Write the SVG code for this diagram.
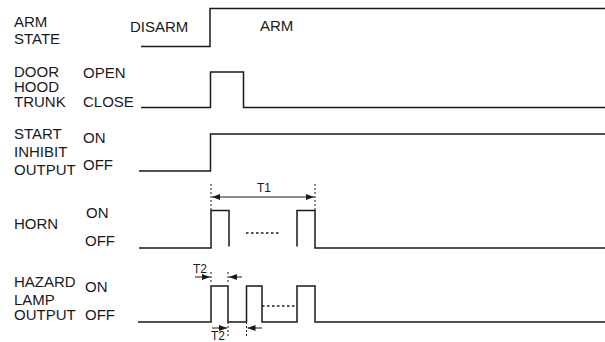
<svg xmlns="http://www.w3.org/2000/svg" width="605" height="342" viewBox="0 0 605 342">
<style>
text{font-family:"Liberation Sans",Arial,sans-serif;font-size:15px;fill:#1a1a1a}
text.s{font-size:12px}
.sig{fill:none;stroke:#1a1a1a;stroke-width:1.5}
.dot{fill:none;stroke:#1a1a1a;stroke-width:1.5;stroke-dasharray:2.5 2.5}
.dim{fill:none;stroke:#1a1a1a;stroke-width:1}
.ext{fill:none;stroke:#1a1a1a;stroke-width:1;stroke-dasharray:2 2}
</style>
<defs>
<marker id="ah" viewBox="0 0 8 6" refX="8" refY="3" markerWidth="8" markerHeight="6" orient="auto-start-reverse" markerUnits="userSpaceOnUse">
<path d="M0,0 L8,3 L0,6 Z" fill="#1a1a1a"/>
</marker>
</defs>
<g id="arm-state">
<text x="14" y="27">ARM</text>
<text x="14" y="44">STATE</text>
<text x="130" y="32">DISARM</text>
<text x="260" y="31">ARM</text>
<path class="sig" d="M141,46.5 H210 V8.5 H605"/>
</g>
<g id="door">
<text x="14" y="77">DOOR</text>
<text x="14" y="92">HOOD</text>
<text x="14" y="107">TRUNK</text>
<text x="83" y="78">OPEN</text>
<text x="83" y="107">CLOSE</text>
<path class="sig" d="M141,107.5 H210.5 V72 H243.5 V107.5 H605"/>
</g>
<g id="start-inhibit">
<text x="14" y="139">START</text>
<text x="14" y="157">INHIBIT</text>
<text x="14" y="175">OUTPUT</text>
<text x="83" y="143">ON</text>
<text x="83" y="170">OFF</text>
<path class="sig" d="M139,171 H210.5 V134 H605"/>
</g>
<g id="horn">
<text x="14" y="229">HORN</text>
<text x="86" y="218">ON</text>
<text x="85" y="246">OFF</text>
<path class="sig" d="M139,248 H211 V210.5 H229 V246.5"/>
<path class="sig" d="M297,246.5 V210.5 H315 V248 H605"/>
<path class="dot" d="M246,233 H279"/>
</g>
<g id="hazard-lamp">
<text x="14" y="287">HAZARD</text>
<text x="14" y="305">LAMP</text>
<text x="14" y="320">OUTPUT</text>
<text x="85" y="292">ON</text>
<text x="85" y="320">OFF</text>
<path class="sig" d="M138,322 H211 V286 H228 V322 H246.5 V286 H262 V322 H297 V286 H315 V322 H605"/>
<path class="dot" d="M262,306 H297"/>
</g>
<g id="connectors">
<path class="ext" d="M211,184 V210"/>
<path class="ext" d="M315,184 V210"/>
<path class="dim" d="M212,197 H314" marker-start="url(#ah)" marker-end="url(#ah)"/>
<text class="s" x="264" y="192" text-anchor="middle">T1</text>
<path class="ext" d="M211,272 V284"/>
<path class="ext" d="M228,272 V284"/>
<path class="dim" d="M195,277 H210" marker-end="url(#ah)"/>
<path class="dim" d="M242,277 H229" marker-end="url(#ah)"/>
<text class="s" x="193" y="273">T2</text>
<path class="ext" d="M228,322 V336"/>
<path class="ext" d="M246.5,322 V338"/>
<path class="dim" d="M212,328 H227" marker-end="url(#ah)"/>
<path class="dim" d="M262,328 H247.5" marker-end="url(#ah)"/>
<text class="s" x="211" y="340">T2</text>
</g>
</svg>
